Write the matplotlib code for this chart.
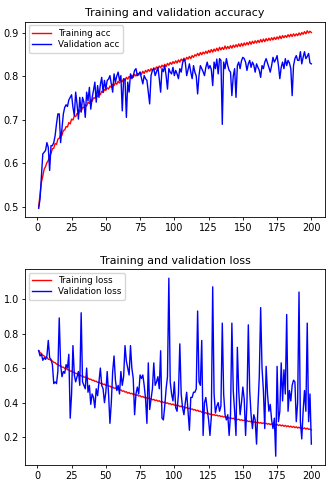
import matplotlib
matplotlib.use('Agg')
import matplotlib.pyplot as plt

# values, epochs 1..200
epochs = list(range(1, 201))

acc = [0.500, 0.528, 0.556, 0.570, 0.586, 0.592, 0.601, 0.606, 0.618, 0.622,
       0.633, 0.634, 0.645, 0.643, 0.655, 0.657, 0.665, 0.664, 0.675, 0.676,
       0.684, 0.683, 0.693, 0.690, 0.701, 0.699, 0.708, 0.707, 0.714, 0.713,
       0.722, 0.719, 0.728, 0.727, 0.734, 0.731, 0.740, 0.737, 0.746, 0.742,
       0.750, 0.749, 0.755, 0.753, 0.761, 0.757, 0.765, 0.762, 0.769, 0.767,
       0.773, 0.770, 0.777, 0.774, 0.781, 0.778, 0.785, 0.781, 0.788, 0.784,
       0.791, 0.787, 0.794, 0.790, 0.797, 0.793, 0.799, 0.796, 0.802, 0.797,
       0.804, 0.800, 0.806, 0.802, 0.809, 0.804, 0.811, 0.806, 0.813, 0.809,
       0.815, 0.811, 0.817, 0.812, 0.819, 0.815, 0.821, 0.817, 0.823, 0.819,
       0.825, 0.821, 0.827, 0.822, 0.829, 0.825, 0.831, 0.827, 0.833, 0.829,
       0.835, 0.830, 0.837, 0.832, 0.839, 0.835, 0.841, 0.836, 0.843, 0.839,
       0.845, 0.840, 0.847, 0.843, 0.849, 0.846, 0.852, 0.847, 0.854, 0.849,
       0.855, 0.851, 0.857, 0.852, 0.859, 0.854, 0.861, 0.855, 0.862, 0.857,
       0.864, 0.858, 0.866, 0.860, 0.866, 0.861, 0.869, 0.862, 0.868, 0.863,
       0.870, 0.864, 0.871, 0.866, 0.872, 0.867, 0.874, 0.868, 0.875, 0.869,
       0.876, 0.871, 0.877, 0.872, 0.879, 0.873, 0.880, 0.875, 0.881, 0.876,
       0.882, 0.877, 0.884, 0.878, 0.885, 0.879, 0.886, 0.881, 0.887, 0.882,
       0.888, 0.883, 0.889, 0.884, 0.890, 0.885, 0.892, 0.886, 0.893, 0.888,
       0.893, 0.889, 0.895, 0.890, 0.896, 0.891, 0.897, 0.892, 0.897, 0.893,
       0.899, 0.894, 0.900, 0.896, 0.902, 0.897, 0.904, 0.899, 0.903, 0.900]

val_acc = [0.496, 0.518, 0.570, 0.621, 0.625, 0.629, 0.647, 0.636, 0.583, 0.640,
           0.640, 0.647, 0.663, 0.690, 0.713, 0.713, 0.647, 0.680, 0.713, 0.728,
           0.734, 0.730, 0.745, 0.751, 0.757, 0.728, 0.709, 0.763, 0.735, 0.701,
           0.751, 0.717, 0.751, 0.740, 0.705, 0.763, 0.743, 0.774, 0.724, 0.750,
           0.767, 0.786, 0.740, 0.778, 0.751, 0.780, 0.797, 0.763, 0.790, 0.770,
           0.790, 0.793, 0.801, 0.782, 0.763, 0.805, 0.786, 0.800, 0.809, 0.790,
           0.801, 0.720, 0.793, 0.793, 0.705, 0.786, 0.763, 0.805, 0.794, 0.800,
           0.813, 0.817, 0.801, 0.805, 0.809, 0.795, 0.782, 0.801, 0.794, 0.790,
           0.763, 0.736, 0.801, 0.813, 0.817, 0.801, 0.810, 0.820, 0.794, 0.763,
           0.817, 0.810, 0.824, 0.801, 0.770, 0.817, 0.809, 0.805, 0.820, 0.801,
           0.813, 0.805, 0.794, 0.817, 0.809, 0.830, 0.839, 0.832, 0.801, 0.815,
           0.828, 0.809, 0.794, 0.824, 0.809, 0.800, 0.759, 0.801, 0.824, 0.817,
           0.810, 0.801, 0.820, 0.832, 0.817, 0.824, 0.815, 0.778, 0.832, 0.817,
           0.839, 0.805, 0.840, 0.836, 0.689, 0.832, 0.817, 0.840, 0.824, 0.813,
           0.809, 0.755, 0.800, 0.817, 0.751, 0.824, 0.832, 0.817, 0.835, 0.843,
           0.840, 0.832, 0.813, 0.828, 0.836, 0.820, 0.832, 0.825, 0.809, 0.828,
           0.820, 0.813, 0.797, 0.824, 0.817, 0.832, 0.840, 0.830, 0.820, 0.809,
           0.824, 0.843, 0.832, 0.838, 0.847, 0.824, 0.794, 0.820, 0.832, 0.817,
           0.840, 0.824, 0.836, 0.830, 0.817, 0.755, 0.824, 0.840, 0.847, 0.836,
           0.836, 0.856, 0.828, 0.843, 0.856, 0.840, 0.845, 0.852, 0.830, 0.828]

loss = [0.702, 0.690, 0.684, 0.674, 0.670, 0.661, 0.662, 0.651, 0.650, 0.644,
        0.641, 0.633, 0.631, 0.623, 0.622, 0.613, 0.614, 0.605, 0.605, 0.598,
        0.598, 0.590, 0.590, 0.582, 0.583, 0.575, 0.576, 0.568, 0.569, 0.561,
        0.561, 0.554, 0.555, 0.547, 0.548, 0.541, 0.542, 0.535, 0.536, 0.529,
        0.530, 0.523, 0.524, 0.517, 0.519, 0.511, 0.513, 0.505, 0.507, 0.500,
        0.502, 0.494, 0.496, 0.489, 0.490, 0.483, 0.485, 0.477, 0.479, 0.472,
        0.474, 0.466, 0.468, 0.461, 0.463, 0.455, 0.458, 0.451, 0.454, 0.447,
        0.449, 0.442, 0.445, 0.438, 0.440, 0.433, 0.436, 0.429, 0.432, 0.425,
        0.427, 0.420, 0.423, 0.416, 0.419, 0.412, 0.415, 0.408, 0.411, 0.404,
        0.407, 0.400, 0.403, 0.396, 0.399, 0.392, 0.395, 0.388, 0.392, 0.385,
        0.388, 0.381, 0.384, 0.377, 0.380, 0.373, 0.376, 0.369, 0.372, 0.365,
        0.368, 0.361, 0.364, 0.357, 0.360, 0.353, 0.356, 0.349, 0.351, 0.344,
        0.346, 0.339, 0.342, 0.335, 0.338, 0.331, 0.334, 0.328, 0.331, 0.325,
        0.328, 0.322, 0.325, 0.319, 0.322, 0.316, 0.319, 0.313, 0.316, 0.310,
        0.313, 0.307, 0.310, 0.304, 0.307, 0.301, 0.304, 0.298, 0.301, 0.296,
        0.299, 0.293, 0.296, 0.290, 0.293, 0.288, 0.291, 0.285, 0.289, 0.283,
        0.287, 0.281, 0.285, 0.279, 0.283, 0.277, 0.281, 0.275, 0.279, 0.273,
        0.277, 0.271, 0.276, 0.269, 0.274, 0.267, 0.272, 0.265, 0.270, 0.263,
        0.268, 0.261, 0.266, 0.259, 0.264, 0.257, 0.262, 0.255, 0.260, 0.253,
        0.258, 0.251, 0.256, 0.249, 0.254, 0.247, 0.252, 0.245, 0.248, 0.242]

val_loss = [0.700, 0.670, 0.680, 0.645, 0.660, 0.650, 0.670, 0.760, 0.660, 0.650,
            0.620, 0.510, 0.520, 0.510, 0.580, 0.890, 0.620, 0.550, 0.580, 0.570,
            0.620, 0.600, 0.680, 0.310, 0.450, 0.730, 0.560, 0.520, 0.550, 0.580,
            0.500, 0.920, 0.520, 0.500, 0.480, 0.600, 0.460, 0.500, 0.390, 0.450,
            0.430, 0.370, 0.480, 0.440, 0.520, 0.600, 0.500, 0.480, 0.400, 0.460,
            0.580, 0.450, 0.280, 0.400, 0.580, 0.670, 0.530, 0.470, 0.500, 0.450,
            0.580, 0.500, 0.550, 0.730, 0.640, 0.600, 0.560, 0.730, 0.600, 0.540,
            0.330, 0.450, 0.490, 0.450, 0.560, 0.540, 0.560, 0.500, 0.420, 0.280,
            0.630, 0.360, 0.420, 0.480, 0.630, 0.500, 0.520, 0.550, 0.480, 0.700,
            0.310, 0.300, 0.380, 0.480, 0.550, 1.120, 0.520, 0.450, 0.410, 0.520,
            0.370, 0.350, 0.450, 0.740, 0.450, 0.370, 0.330, 0.400, 0.460, 0.350,
            0.240, 0.430, 0.430, 0.460, 0.460, 0.480, 0.930, 0.520, 0.500, 0.760,
            0.210, 0.400, 0.430, 0.360, 0.300, 0.210, 0.320, 1.070, 0.450, 0.340,
            0.380, 0.400, 0.350, 0.380, 0.860, 0.450, 0.330, 0.300, 0.330, 0.210,
            0.330, 0.860, 0.470, 0.350, 0.210, 0.720, 0.470, 0.330, 0.400, 0.490,
            0.420, 0.210, 0.400, 0.850, 0.470, 0.330, 0.250, 0.330, 0.300, 0.160,
            0.370, 0.550, 0.950, 0.600, 0.470, 0.250, 0.610, 0.450, 0.350, 0.390,
            0.300, 0.250, 0.310, 0.090, 0.610, 0.290, 0.350, 0.630, 0.410, 0.590,
            0.450, 0.910, 0.350, 0.470, 0.410, 0.500, 0.530, 0.520, 0.290, 0.400,
            1.040, 0.290, 0.190, 0.350, 0.470, 0.350, 0.860, 0.290, 0.450, 0.160]

plt.rcParams['font.family'] = 'DejaVu Sans'
fig = plt.figure(figsize=(3.34, 4.87), dpi=100)
ax1 = fig.add_axes([0.075, 0.554, 0.898, 0.401])
ax2 = fig.add_axes([0.075, 0.045, 0.898, 0.402])

for ax, tr, va, title, name in [(ax1, acc, val_acc, 'Training and validation accuracy', 'acc'),
                                 (ax2, loss, val_loss, 'Training and validation loss', 'loss')]:
    ax.plot(epochs, tr, 'r', lw=1.0, label='Training ' + name)
    ax.plot(epochs, va, 'b', lw=1.0, label='Validation ' + name)
    ax.set_title(title, fontsize=7.9, pad=4)
    ax.tick_params(labelsize=7, length=2.5, width=0.6, pad=2)
    for s in ax.spines.values():
        s.set_linewidth(0.6)
    ax.legend(loc='upper left', fontsize=6.3, handlelength=2.2, borderpad=0.4,
              labelspacing=0.25, borderaxespad=0.4)

ax1.set_xticks([0, 25, 50, 75, 100, 125, 150, 175, 200])
ax2.set_xticks([0, 25, 50, 75, 100, 125, 150, 175, 200])
ax1.set_yticks([0.5, 0.6, 0.7, 0.8, 0.9])
ax2.set_yticks([0.2, 0.4, 0.6, 0.8, 1.0])

fig.savefig('out.png', dpi=100)
